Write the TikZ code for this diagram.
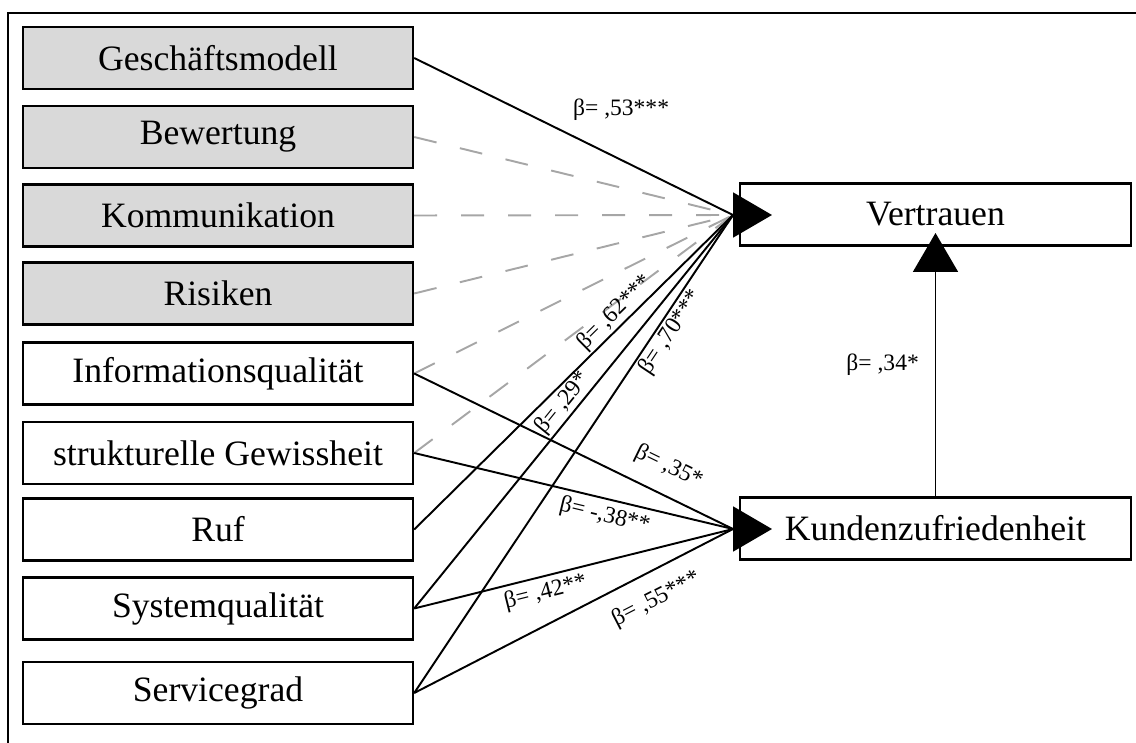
\documentclass[tikz,border=0pt]{standalone}
\usepackage{fontspec}
\setmainfont{Liberation Serif}
\usetikzlibrary{arrows.meta}

\begin{document}
\begin{tikzpicture}[
    x=0.02cm, y=-0.02cm,
    factor/.style={rectangle, draw, line width=1.4pt, minimum width=7.8cm, minimum height=1.24cm, align=center, font=\fontsize{20.3}{24}\selectfont},
    gfactor/.style={rectangle, draw, line width=1.4pt, minimum width=7.8cm, minimum height=1.24cm, align=center, font=\fontsize{20.3}{24}\selectfont, fill=black!15},
    target/.style={rectangle, draw, line width=1.4pt, minimum width=7.82cm, minimum height=1.24cm, align=center, font=\fontsize{20.3}{24}\selectfont},
    sig/.style={line width=1.1pt},
    nonsig/.style={line width=1.1pt, draw=black!35, dash pattern=on 0.46cm off 0.48cm},
    head/.style={-{Triangle[length=0.78cm, width=0.9cm]}, line width=1.1pt},
    beta/.style={font=\fontsize{13.4}{16}\selectfont, inner sep=1pt}
]
\useasboundingbox (0,0) rectangle (1136,743);

% Frame
\draw[line width=1.7pt] (8,743) -- (8,13) -- (1136,13);

% Antecedents
\node[gfactor] (gm) at (218,58) {Geschäftsmodell};
\node[gfactor] (bew) at (218,137) {Bewertung};
\node[gfactor] (komm) at (218,215.5) {Kommunikation};
\node[gfactor] (ris) at (218,293.5) {Risiken};
\node[factor] (info) at (218,373.5) {Informationsqualität};
\node[factor] (struk) at (218,453) {strukturelle Gewissheit};
\node[factor] (ruf) at (218,529.5) {Ruf};
\node[factor] (sys) at (218,608.5) {Systemqualität};
\node[factor] (serv) at (218,693) {Servicegrad};

% Outcomes
\node[target] (vert) at (935.5,214.5) {Vertrauen};
\node[target] (kund) at (935.5,528.5) {Kundenzufriedenheit};

% Arrow heads
\coordinate (vbase) at (733,215);
\coordinate (vtip) at (772,215);
\coordinate (kbase) at (733,529);
\coordinate (ktip) at (772,529);
\coordinate (kvtip) at (935.5,233);

% Non-significant paths
\draw[nonsig] (bew.east) -- (vbase);
\draw[nonsig] (komm.east) -- (vbase);
\draw[nonsig] (ris.east) -- (vbase);
\draw[nonsig] (info.east) -- (vbase);
\draw[nonsig] (struk.east) -- (vbase);

% Significant paths
\draw[sig] (gm.east) -- (vbase) node[beta, pos=0.49, anchor=south west, yshift=0.24cm] {β= ,53***};
\draw[sig] (ruf.east) -- (vbase) node[beta, pos=0.66, sloped, above] {β= ,62***};
\draw[sig] (sys.east) -- (vbase) node[beta, pos=0.5, sloped, above] {β= ,29*};
\draw[sig] (serv.east) -- (vbase) node[beta, pos=0.77, sloped, below] {β= ,70***};
\draw[sig] (info.east) -- (kbase) node[beta, pos=0.76, sloped, above=0.28cm] {β= ,35*};
\draw[sig] (struk.east) -- (kbase) node[beta, pos=0.61, sloped, below=0.07cm] {β= -,38**};
\draw[sig] (sys.east) -- (kbase) node[beta, pos=0.4, sloped, below=0.05cm] {β= ,42**};
\draw[sig] (serv.east) -- (kbase) node[beta, pos=0.72, sloped, below=0.28cm] {β= ,55***};
\draw[head] (vbase) -- (vtip);
\draw[head] (kbase) -- (ktip);
\draw[head] (kund) -- (kvtip) node[beta, pos=0.5, left=0.28cm] {β= ,34*};

\end{tikzpicture}
\end{document}
